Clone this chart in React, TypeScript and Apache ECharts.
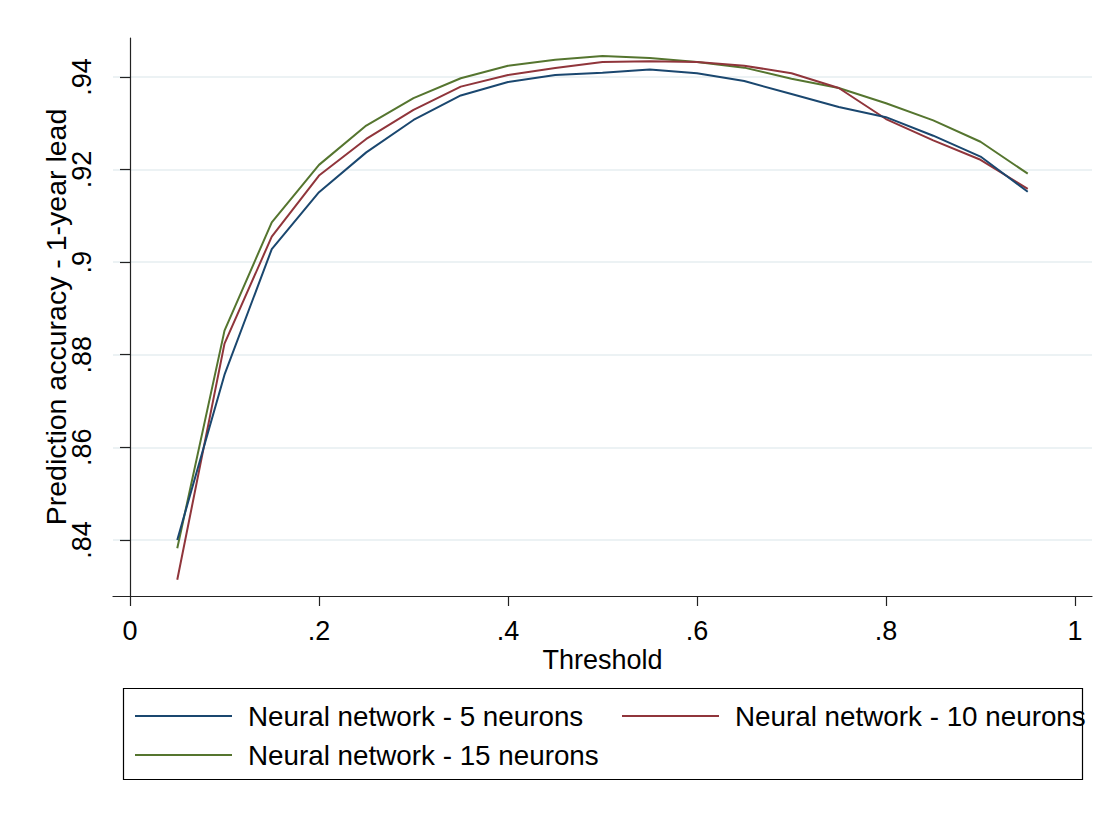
import React, { useEffect, useRef } from "react";
import * as echarts from "echarts";

const thresholds = [0.05, 0.1, 0.15, 0.2, 0.25, 0.3, 0.35, 0.4, 0.45, 0.5, 0.55, 0.6, 0.65, 0.7, 0.75, 0.8, 0.85, 0.9, 0.95];
const nn5 = [0.8400, 0.8757, 0.9028, 0.9151, 0.9237, 0.9307, 0.9360, 0.9389, 0.9404, 0.9409, 0.9416, 0.9408, 0.9391, 0.9363, 0.9335, 0.9313, 0.9273, 0.9228, 0.9152];
const nn10 = [0.8314, 0.8824, 0.9055, 0.9187, 0.9266, 0.9329, 0.9379, 0.9404, 0.9419, 0.9432, 0.9434, 0.9432, 0.9424, 0.9408, 0.9376, 0.9309, 0.9263, 0.9221, 0.9158];
const nn15 = [0.8382, 0.8852, 0.9086, 0.9210, 0.9295, 0.9354, 0.9397, 0.9424, 0.9437, 0.9445, 0.9441, 0.9432, 0.9420, 0.9396, 0.9376, 0.9343, 0.9306, 0.9260, 0.9191];
const seriesNames = ["Neural network - 5 neurons", "Neural network - 10 neurons", "Neural network - 15 neurons"];
const xTicks = [0, 0.2, 0.4, 0.6, 0.8, 1];
const yTicks = [0.84, 0.86, 0.88, 0.9, 0.92, 0.94];
const colors = ["#1a476f", "#90353b", "#55752f"];

const FONT = "'Liberation Sans', Arial, sans-serif";
const FS = 27;

const fmt = (v: number) => {
  const s = String(+v.toFixed(2));
  return s.replace(/^0(?=\.)/, "");
};

export default function App() {
  const ref = useRef<HTMLDivElement>(null);
  useEffect(() => {
    if (!ref.current) return;
    const chart = echarts.init(ref.current, undefined, { renderer: "svg" });
    const allSeries = [nn5, nn10, nn15];
    const legendItem = (name: string, left: number, top: number) => ({
      data: [name],
      left,
      top,
      padding: 0,
      icon: "rect",
      itemWidth: 97,
      itemHeight: 2,
      textStyle: { fontFamily: FONT, fontSize: 27.8, color: "#000", padding: [0, 0, 0, 11] },
      selectedMode: false,
    });
    chart.setOption({
      animation: false,
      backgroundColor: "#fff",
      textStyle: { fontFamily: FONT },
      grid: { left: 113, top: 38, right: 16, bottom: 217, containLabel: false },
      xAxis: {
        type: "value",
        min: -0.018,
        max: 1.018,
        name: "Threshold",
        nameLocation: "middle",
        nameGap: 50,
        nameMoveOverlap: false,
        nameTextStyle: { fontFamily: FONT, fontSize: FS, color: "#000" },
        axisLine: { show: true, lineStyle: { color: "#222", width: 1.2 } },
        axisTick: { show: true, length: 10, customValues: xTicks, lineStyle: { color: "#222", width: 1.2 } },
        axisLabel: { customValues: xTicks, margin: 21, fontFamily: FONT, fontSize: FS, color: "#000", formatter: (v: number) => fmt(v) },
        splitLine: { show: false },
      },
      yAxis: {
        type: "value",
        min: 0.8279,
        max: 0.9484,
        name: "Prediction accuracy - 1-year lead",
        nameLocation: "middle",
        nameGap: 43,
        nameMoveOverlap: false,
        nameTextStyle: { fontFamily: FONT, fontSize: 28.5, color: "#000" },
        axisLine: { show: true, lineStyle: { color: "#222", width: 1.2 } },
        axisTick: { show: true, length: 10, customValues: yTicks, lineStyle: { color: "#222", width: 1.2 } },
        axisLabel: { customValues: yTicks, rotate: 90, margin: 18, fontFamily: FONT, fontSize: FS, color: "#000", formatter: (v: number) => fmt(v) },
        splitLine: { show: true, lineStyle: { color: "#e6eef0", width: 1.5 } },
      },
      legend: [
        legendItem(seriesNames[0], 135, 702),
        legendItem(seriesNames[1], 622, 702),
        legendItem(seriesNames[2], 135, 741),
      ],
      graphic: [
        {
          type: "rect",
          shape: { x: 123.5, y: 688.5, width: 959, height: 91 },
          style: { fill: "none", stroke: "#000", lineWidth: 1.2 },
          silent: true,
        },
      ],
      series: allSeries.map((vals, i) => ({
        name: seriesNames[i],
        type: "line",
        data: thresholds.map((t, j) => [t, vals[j]]),
        showSymbol: false,
        symbol: "none",
        lineStyle: { color: colors[i], width: 2 },
        itemStyle: { color: colors[i] },
        z: 3 - i,
      })),
    });
    return () => chart.dispose();
  }, []);
  return <div ref={ref} style={{ position: "absolute", left: 0, top: 0, width: 1108, height: 813 }} />;
}
